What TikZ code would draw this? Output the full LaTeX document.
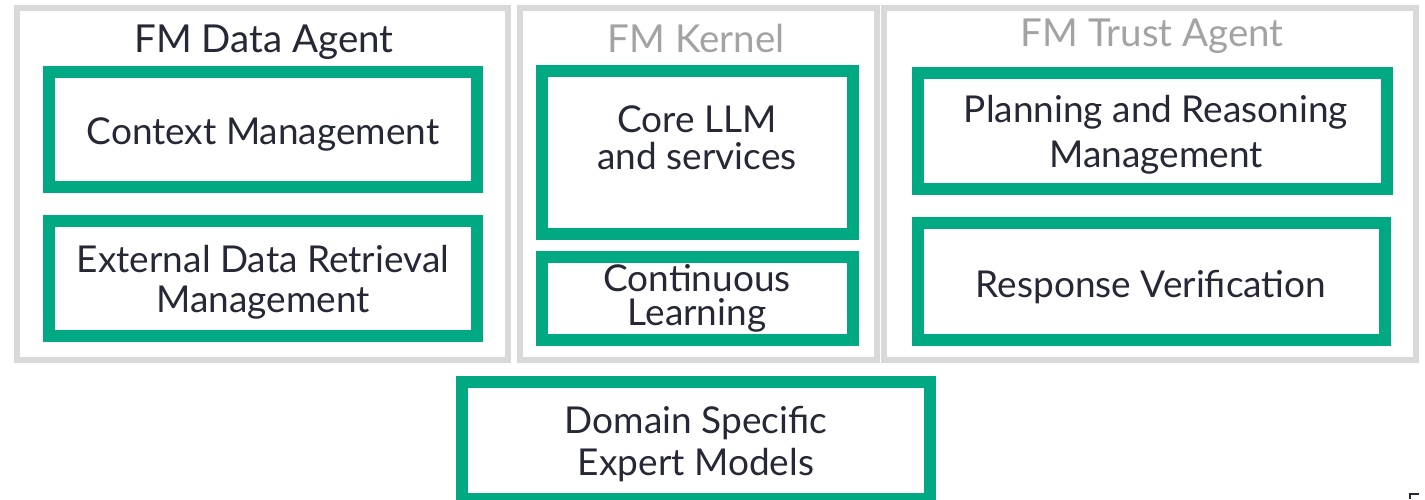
\documentclass[tikz,border=0pt]{standalone}
\usepackage{fontspec}
\setmainfont{Lato}
\definecolor{hpegreen}{HTML}{01A982}
\definecolor{framegray}{HTML}{D9D9D9}
\definecolor{titlegray}{HTML}{A3A3A3}
\definecolor{textdark}{HTML}{262836}
\tikzset{
  groupbox/.style={draw=framegray, line width=6pt, inner sep=0pt, fill=none},
  modbox/.style={draw=hpegreen, line width=12pt, inner sep=0pt, fill=white},
  lbl/.style={anchor=base, inner sep=0pt, text=textdark, font=\fontsize{37}{42}\selectfont},
  ttl/.style={lbl, font=\fontsize{38.5}{42}\selectfont},
  ttlgray/.style={ttl, text=titlegray},
}
\begin{document}
\begin{tikzpicture}[x=1pt,y=-1pt]
\useasboundingbox (0,0) rectangle (1425,499);
\fill[white] (0,0) rectangle (1425,499);
% group frames
\node[groupbox, minimum width=491pt, minimum height=352pt] (g1) at (262.5,184) {};
\node[groupbox, minimum width=357pt, minimum height=352pt] (g2) at (698.5,184) {};
\node[groupbox, minimum width=532pt, minimum height=352pt] (g3) at (1150,184) {};
% titles
\node[ttl] (t1) at (264,52) {FM Data Agent};
\node[ttlgray] (t2) at (696,52) {FM Kernel};
\node[ttlgray] (t3) at (1152,46.5) {FM Trust Agent};
% module boxes
\node[modbox, minimum width=428pt, minimum height=115pt] (cm) at (263,129.5) {};
\node[modbox, minimum width=428pt, minimum height=115pt] (edr) at (263,278.5) {};
\node[modbox, minimum width=311pt, minimum height=163pt] (core) at (697.5,152.5) {};
\node[modbox, minimum width=311pt, minimum height=83pt] (cl) at (697.5,298.5) {};
\node[modbox, minimum width=469pt, minimum height=116pt] (pr) at (1152.5,131) {};
\node[modbox, minimum width=467pt, minimum height=117pt] (rv) at (1151.5,281.5) {};
\node[modbox, minimum width=468pt, minimum height=117pt] (ds) at (696,440.5) {};
% labels
\node[lbl] (cm1) at (263,144) {Context Management};
\node[lbl] (edr1) at (263,272) {External Data Retrieval};
\node[lbl] (edr2) at (263,312) {Management};
\node[lbl] (core1) at (697,132) {Core LLM};
\node[lbl] (core2) at (697,169) {and services};
\node[lbl] (cl1) at (697,291) {Continuous};
\node[lbl] (cl2) at (697,325) {Learning};
\node[lbl] (pr1) at (1156,122) {Planning and Reasoning};
\node[lbl] (pr2) at (1156,167) {Management};
\node[lbl] (rv1) at (1151,297) {Response Verification};
\node[lbl] (ds1) at (696,433) {Domain Specific};
\node[lbl] (ds2) at (696,475) {Expert Models};
% small corner mark
\coordinate (m1) at (1410,499);
\coordinate (m2) at (1410,494);
\coordinate (m3) at (1419,494);
\draw[textdark, line width=2pt] (m1) -- (m2) -- (m3);
\end{tikzpicture}
\end{document}
